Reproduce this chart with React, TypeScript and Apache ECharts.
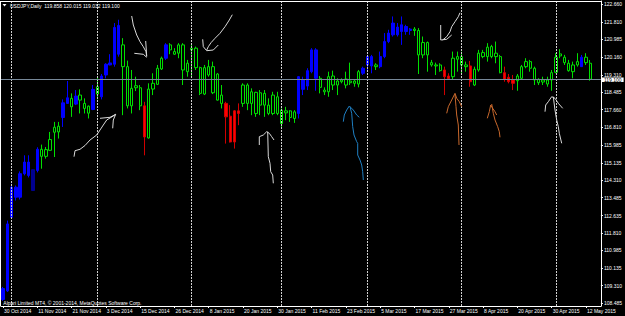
import React, { useEffect, useRef } from 'react';
import * as echarts from 'echarts';

// ---------- data ----------
const symbolTitle = 'USDJPY,Daily';
const copyrightText = 'Alpari Limited MT4, \u00a9 2001-2014, MetaQuotes Software Corp.';
const firstTradingDay = '2014-10-30';
const marketClosedDays = ['2014-12-25', '2015-01-01'];
const barCount = 138;

const opens = [
  108.65, 109.058, 112.55, 113.503, 113.503, 114.617, 114.537, 114.808, 114.775, 115.775,
  115.442, 115.728, 116.585, 116.6, 117.286, 117.953, 118.191, 117.919, 118.348, 117.953,
  117.49, 117.667, 118.744, 118.267, 119.301, 119.777, 119.811, 121.65, 120.73, 119.696,
  117.838, 118.696, 118.696, 117.838, 116.314, 118.634, 118.858, 119.587, 120.097, 120.73,
  120.287, 120.335, 120.73, 119.458, 120.492, 120.573, 119.649, 118.396, 119.301, 119.696,
  118.11, 118.348, 117.953, 117.347, 117.6, 117.6, 117.953, 118.825, 117.953, 117.476,
  118.458, 118.429, 117.872, 117.476, 118.267, 117.0, 117.505, 117.6, 117.238, 117.476,
  118.62, 118.777, 119.458, 120.492, 119.144, 118.505, 118.505, 119.253, 118.825, 119.063,
  119.11, 118.934, 119.015, 118.872, 119.382, 119.777, 120.173, 119.777, 119.696, 120.173,
  120.887, 121.207, 121.573, 121.364, 121.602, 121.411, 121.411, 121.411, 120.254, 120.84,
  119.887, 119.73, 119.777, 119.539, 119.253, 119.22, 120.049, 120.173, 119.696, 119.73,
  118.825, 119.539, 120.363, 120.173, 120.649, 120.335, 120.173, 119.411, 119.191, 119.063,
  119.029, 119.144, 119.935, 119.62, 119.62, 119.096, 119.063, 118.872, 119.063, 119.43,
  120.301, 120.144, 119.858, 119.458, 119.935, 119.696, 120.144, 119.858,
];
const highs = [
  109.248, 112.393, 114.141, 114.06, 114.727, 115.49, 115.49, 114.823, 115.871, 115.999,
  115.885, 116.6, 117.076, 117.076, 118.143, 119.015, 118.429, 118.586, 118.62, 118.191,
  117.85, 118.825, 119.191, 119.348, 119.858, 120.287, 121.764, 121.921, 121.049, 119.982,
  119.539, 119.22, 118.825, 118.029, 118.906, 119.382, 119.777, 120.173, 120.811, 120.811,
  120.573, 120.811, 120.811, 120.016, 120.811, 120.649, 119.696, 119.777, 120.016, 119.935,
  119.396, 118.825, 118.029, 117.872, 117.633, 117.953, 118.906, 118.906, 118.667, 118.505,
  118.586, 118.586, 118.191, 118.505, 118.505, 117.714, 117.791, 117.633, 117.633, 119.253,
  119.22, 119.62, 120.573, 120.573, 119.253, 118.715, 119.458, 119.506, 119.144, 119.144,
  119.458, 119.887, 119.063, 119.539, 119.696, 120.254, 120.254, 119.858, 120.411, 121.288,
  121.445, 122.078, 121.764, 122.078, 121.683, 121.526, 121.573, 121.526, 121.126, 120.887,
  120.016, 119.887, 119.858, 119.696, 119.382, 120.411, 120.411, 120.411, 119.935, 119.968,
  119.696, 120.492, 120.492, 120.811, 120.73, 120.887, 120.254, 119.696, 119.348, 119.301,
  119.348, 119.777, 120.097, 120.016, 119.696, 119.144, 119.22, 119.22, 119.539, 120.335,
  120.525, 120.254, 120.016, 119.935, 120.335, 120.254, 120.335, 120.015,
];
const lows = [
  108.581, 109.01, 112.488, 113.346, 113.393, 114.537, 114.441, 113.8, 114.68, 114.856,
  115.333, 115.7, 115.409, 116.285, 116.838, 117.93, 117.314, 117.872, 117.476, 117.476,
  117.238, 117.633, 118.143, 118.143, 119.144, 119.76, 119.696, 120.173, 117.395, 117.714,
  117.476, 118.539, 117.633, 115.49, 116.285, 118.348, 118.825, 119.539, 120.016, 120.287,
  120.254, 120.097, 118.825, 119.22, 119.22, 119.539, 118.348, 118.348, 119.22, 118.396,
  118.09, 117.714, 116.047, 116.1, 115.809, 116.919, 117.791, 117.633, 117.395, 117.314,
  117.395, 117.314, 117.395, 117.395, 117.395, 116.838, 117.157, 117.076, 117.028, 117.238,
  118.348, 118.586, 119.382, 118.553, 118.429, 118.348, 118.267, 118.586, 118.348, 118.906,
  118.667, 118.825, 118.744, 118.715, 119.301, 119.458, 119.382, 119.539, 119.62, 120.097,
  120.811, 121.126, 121.126, 120.73, 121.207, 121.207, 121.159, 119.348, 120.097, 119.458,
  119.696, 119.301, 119.458, 118.348, 119.063, 119.063, 119.458, 119.382, 119.458, 118.744,
  118.777, 119.458, 120.097, 119.935, 120.097, 119.858, 119.382, 118.982, 118.906, 118.586,
  118.553, 119.063, 119.62, 119.458, 118.825, 118.825, 118.825, 118.744, 118.553, 119.382,
  120.097, 119.777, 119.458, 119.144, 119.696, 119.68, 119.777, 119.032,
];
const closes = [
  109.167, 112.236, 113.979, 113.979, 114.617, 115.17, 115.17, 113.822, 115.775, 115.442,
  115.761, 116.237, 116.823, 116.871, 117.981, 118.219, 117.791, 118.3, 118.11, 117.714,
  117.824, 118.62, 118.396, 119.253, 119.811, 119.873, 121.554, 120.287, 119.696, 117.838,
  118.667, 118.79, 117.838, 116.361, 118.634, 118.906, 119.62, 120.097, 120.73, 120.492,
  120.411, 120.73, 119.539, 119.858, 120.573, 119.649, 118.429, 119.649, 119.696, 118.458,
  119.348, 117.953, 117.314, 116.123, 116.123, 117.476, 118.825, 117.953, 118.505, 118.477,
  117.872, 117.872, 117.476, 118.348, 117.476, 117.633, 117.6, 117.286, 117.552, 119.22,
  119.063, 119.506, 120.492, 119.144, 118.715, 118.586, 119.22, 118.825, 119.015, 118.982,
  118.825, 119.015, 118.906, 119.458, 119.62, 120.173, 119.73, 119.696, 120.173, 120.887,
  121.288, 121.764, 121.207, 121.683, 121.364, 121.478, 121.478, 120.254, 120.84, 120.254,
  119.777, 119.777, 119.506, 119.22, 119.125, 120.097, 120.173, 119.777, 119.777, 118.982,
  119.572, 120.335, 120.173, 120.621, 120.173, 120.173, 119.411, 119.096, 118.982, 118.906,
  119.253, 119.696, 119.696, 119.935, 119.063, 118.934, 118.968, 119.063, 119.411, 120.144,
  120.206, 119.887, 119.506, 119.777, 119.777, 120.144, 119.887, 119.1,
];
// indicator state painted over candles: B = up (blue), D = up weak (navy), R = down (red), N = none
const trendState = (
  'BBBBBBBDBN' + 'NNNNBBNBNN' + 'NBNBBBBBNN' + 'NNNRNNNNBN' + 'NNNNNNNNNN' +
  'NNRRRRNNNN' + 'NNNNNNNNNB' + 'BBBBNNNNNN' + 'NNNNBBBNBB' + 'BBBBBBNNNN' +
  'NNNRRNNNNR' + 'NNNNNNNRRR' + 'NNNNNNNNNN' + 'NNNNNBNN'
).split('');
const priceTicks = [
  122.66, 121.81, 120.985, 120.16, 119.31, 118.485, 117.66, 116.81, 115.985,
  115.135, 114.31, 113.485, 112.635, 111.81, 110.985, 110.135, 109.31, 108.485,
];
const bidPrice = 119.1;

// ---------- layout / style ----------
const W = 625;
const H = 316;
const Y_MIN = 108.342;
const Y_MAX = 122.811;
const FONT = 'Liberation Sans';
const MONTHS = ['Jan', 'Feb', 'Mar', 'Apr', 'May', 'Jun', 'Jul', 'Aug', 'Sep', 'Oct', 'Nov', 'Dec'];

// hand-drawn annotations on the chart (screen pixels)
const drawings: { color: string; strokes: number[][][] }[] = [
  { color: '#d8d8d8', strokes: [
    [[131.7, 16], [133.3, 25], [136.7, 35], [140, 41.7], [143.3, 46.7], [146, 51.7], [146.7, 56.7]],
    [[134.3, 53.3], [143.3, 54.3], [146.7, 57.3]],
    [[145.7, 41], [146.7, 56]],
  ] },
  { color: '#d8d8d8', strokes: [
    [[74, 156.7], [75, 150.7], [80, 149.3], [85, 145.5], [90, 140], [96.7, 135], [100, 130], [103.3, 125], [106.7, 120], [113.3, 116], [115.7, 114.3]],
    [[100, 118.3], [110, 117.3], [115.7, 114.3]],
    [[112.7, 128.3], [113.3, 120], [115.7, 114.3]],
  ] },
  { color: '#d8d8d8', strokes: [
    [[232.3, 14.7], [229.3, 20], [225, 26.7], [220, 33.3], [215, 38.3], [211, 42.7], [208.3, 46.7], [206.7, 50]],
    [[202.7, 39.3], [203.3, 46.7], [206.7, 50.7], [213.3, 50], [218.3, 45]],
  ] },
  { color: '#d8d8d8', strokes: [
    [[259.3, 145], [259.3, 136.7], [263.3, 135], [266.7, 131.7], [269.3, 133.3], [271.7, 136.7], [274, 140]],
    [[267.7, 131.7], [268.3, 156.7], [270, 163.3], [270.7, 171.7], [272.7, 175], [273.3, 183.3]],
  ] },
  { color: '#1f7fc2', strokes: [
    [[343.3, 121.7], [344.3, 115], [346.7, 110], [349.3, 106], [353.3, 110], [356.7, 115], [359.3, 117.3]],
    [[350, 106.7], [351.7, 113.3], [352.7, 126.7], [354, 135], [356.7, 141.7], [357.7, 143.3], [357.7, 155], [360, 160], [361.7, 165], [362.7, 171.7], [363.3, 180]],
  ] },
  { color: '#d8d8d8', strokes: [
    [[460, 12.7], [458.3, 16.7], [455, 21.7], [451.7, 26.7], [450, 31.7], [446.7, 36.7], [442.7, 40]],
    [[440.7, 25], [440.7, 40], [446.7, 39.3], [451.7, 35]],
  ] },
  { color: '#c8682c', strokes: [
    [[446.7, 113.3], [448.3, 106.7], [451.7, 100], [455, 93.3], [456.7, 98.3], [459.3, 101.7], [461.7, 106.7]],
    [[455, 95], [456, 106.7], [456.7, 115], [458.3, 125], [459, 145]],
  ] },
  { color: '#c8682c', strokes: [
    [[487.3, 118.3], [489.3, 111.7], [490.7, 105], [492.7, 108.3], [495, 111.7], [496.7, 115]],
    [[491.7, 104], [493.3, 113.3], [495, 120], [497.7, 126.7], [499.3, 131.7], [500, 137.3]],
  ] },
  { color: '#d8d8d8', strokes: [
    [[545, 111.7], [545.7, 105], [548.3, 101.7], [551.7, 96.7], [555, 98.3], [558.3, 103.3], [562.7, 108.3]],
    [[553.3, 96.7], [555, 110], [556.7, 120], [558.3, 126.7], [559.3, 133.3], [561.7, 143.3]],
  ] },
];

function buildTradingDays(start: string, count: number, closed: string[]) {
  const out: { label: string; month: number }[] = [];
  const d = new Date(start + 'T00:00:00Z');
  while (out.length < count) {
    const wd = d.getUTCDay();
    const iso = d.toISOString().slice(0, 10);
    if (wd !== 0 && wd !== 6 && !closed.includes(iso)) {
      out.push({ label: `${d.getUTCDate()} ${MONTHS[d.getUTCMonth()]} ${d.getUTCFullYear()}`, month: d.getUTCMonth() });
    }
    d.setUTCDate(d.getUTCDate() + 1);
  }
  return out;
}

const STYLE_BY_STATE: Record<string, any> = {
  B: { color: '#0000ff', color0: '#0000ff', borderColor: '#0000ff', borderColor0: '#0000ff' },
  D: { color: '#000090', color0: '#000090', borderColor: '#000090', borderColor0: '#000090' },
  R: { color: '#ff0000', color0: '#ff0000', borderColor: '#d00000', borderColor0: '#d00000' },
  N: { color: '#000000', color0: '#ffffff', borderColor: '#00e000', borderColor0: '#00e000' },
};

export default function App() {
  const ref = useRef<HTMLDivElement>(null);
  useEffect(() => {
    document.body.style.margin = '0';
    document.body.style.background = '#000';
    if (!ref.current) return;
    const chart = echarts.init(ref.current, undefined, { renderer: 'svg' });

    const days = buildTradingDays(firstTradingDay, barCount, marketClosedDays);
    const categories = days.map((d) => d.label).concat([' ', '  ']);
    const monthStarts: number[] = [];
    for (let i = 1; i < days.length; i++) if (days[i].month !== days[i - 1].month) monthStarts.push(i);

    const candleData = opens.map((o, i) => ({
      value: [o, closes[i], lows[i], highs[i]],
      itemStyle: STYLE_BY_STATE[trendState[i]] || STYLE_BY_STATE.N,
    }));

    const last = opens.length - 1;
    const titleText = `${symbolTitle}  ${opens[last].toFixed(3)} ${highs[last].toFixed(3)} ${lows[last].toFixed(3)} ${closes[last].toFixed(3)}`;

    const graphic: any[] = [
      { type: 'line', z: 50, silent: true, shape: { x1: 0, y1: 1.5, x2: 602, y2: 1.5 }, style: { stroke: '#ffffff', lineWidth: 1 } },
      { type: 'line', z: 50, silent: true, shape: { x1: 0.5, y1: 1, x2: 0.5, y2: 306 }, style: { stroke: '#ffffff', lineWidth: 1 } },
      { type: 'polygon', z: 60, silent: true, shape: { points: [[2.5, 4], [6.5, 4], [4.5, 6.5]] }, style: { fill: '#ffffff' } },
      { type: 'text', z: 60, silent: true, x: 10, y: 5.5, style: { text: titleText, fill: '#ffffff', fontSize: 5, fontFamily: FONT, verticalAlign: 'middle', align: 'left' } },
      { type: 'text', z: 60, silent: true, x: 3.3, y: 302.7, style: { text: copyrightText, fill: '#ffffff', fontSize: 5, fontFamily: FONT, verticalAlign: 'middle', align: 'left' } },
    ];
    drawings.forEach((dr) => {
      dr.strokes.forEach((pts) => {
        graphic.push({ type: 'polyline', z: 70, silent: true, shape: { points: pts }, style: { stroke: dr.color, lineWidth: 1, fill: null } });
      });
    });

    const option: any = {
      animation: false,
      backgroundColor: '#000000',
      grid: { left: 0, right: 23, top: 1, bottom: 10, show: false },
      xAxis: {
        type: 'category',
        data: categories,
        boundaryGap: true,
        axisLine: { show: true, lineStyle: { color: '#ffffff', width: 1 } },
        axisTick: { show: true, interval: 7, alignWithLabel: true, length: 2, lineStyle: { color: '#ffffff' } },
        axisLabel: { interval: 7, color: '#ffffff', fontSize: 5, lineHeight: 5, fontFamily: FONT, align: 'left', margin: 2, padding: [0, 0, 0, 1] },
        splitLine: { show: false },
      },
      yAxis: {
        type: 'value',
        position: 'right',
        min: Y_MIN,
        max: Y_MAX,
        axisLine: { show: true, lineStyle: { color: '#ffffff', width: 1 } },
        axisTick: { show: true, length: 2, customValues: priceTicks, lineStyle: { color: '#ffffff' } },
        axisLabel: { customValues: priceTicks, formatter: (v: number) => v.toFixed(3), color: '#ffffff', fontSize: 5, lineHeight: 5, fontFamily: FONT, margin: 3 },
        splitLine: { show: false },
      },
      series: [
        {
          type: 'line',
          data: categories.map(() => null),
          silent: true,
          showSymbol: false,
          z: 1,
          markLine: {
            silent: true,
            symbol: ['none', 'none'],
            animation: false,
            data: [
              ...monthStarts.map((i) => ({
                xAxis: categories[i],
                lineStyle: { color: '#cfcfcf', type: [2, 1], width: 1 },
                label: { show: false },
              })),
              {
                yAxis: bidPrice,
                lineStyle: { color: '#778899', type: 'solid', width: 1 },
                label: {
                  show: true, position: 'end', distance: 1, formatter: bidPrice.toFixed(3),
                  backgroundColor: '#ffffff', color: '#000000', fontSize: 5, lineHeight: 4.5, fontFamily: FONT,
                  padding: [0, 2], offset: [0, 0.5],
                },
              },
            ],
          },
        },
        {
          type: 'candlestick',
          z: 3,
          barWidth: 2.8,
          data: candleData,
          itemStyle: { borderWidth: 1, ...STYLE_BY_STATE.N },
        },
      ],
      graphic,
    };
    chart.setOption(option);
    return () => chart.dispose();
  }, []);
  return <div ref={ref} style={{ width: W, height: H, background: '#000' }} />;
}
